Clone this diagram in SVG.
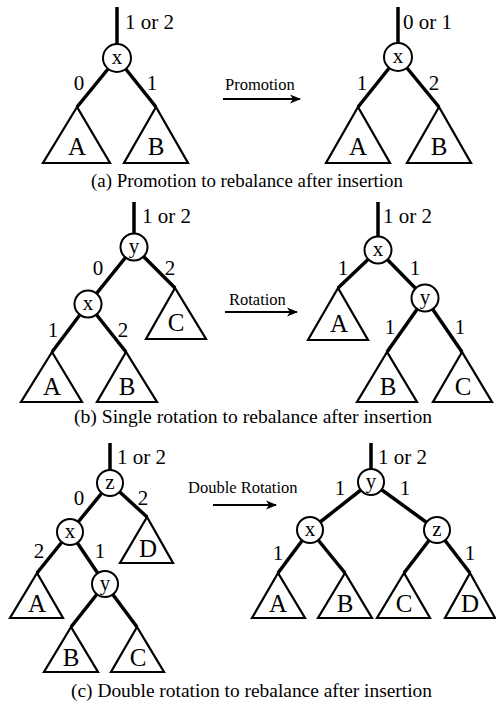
<svg xmlns="http://www.w3.org/2000/svg" width="496" height="706" viewBox="0 0 496 706">
<style>
.e{stroke:#000;stroke-width:3.5;fill:none;stroke-linecap:butt}
.t{stroke:#000;stroke-width:2.2;fill:#fff;stroke-linejoin:miter}
.c{stroke:#000;stroke-width:2;fill:#fff}
.lbl{font-family:"Liberation Serif","Times New Roman",serif;font-size:21px;fill:#000}
.nl{font-family:"Liberation Serif","Times New Roman",serif;font-size:21px;fill:#000;text-anchor:middle}
.tl{font-family:"Liberation Serif","Times New Roman",serif;font-size:25px;fill:#000;text-anchor:middle}
.el{font-family:"Liberation Serif","Times New Roman",serif;font-size:21px;fill:#000;text-anchor:middle}
.al{font-family:"Liberation Serif","Times New Roman",serif;font-size:16.5px;fill:#000}
.cap{font-family:"Liberation Serif","Times New Roman",serif;font-size:18.5px;fill:#000}
.arr{stroke:#000;stroke-width:2;fill:none}
</style>
<defs>
<marker id="ah" markerWidth="12" markerHeight="10" refX="10" refY="5" orient="auto" markerUnits="userSpaceOnUse">
<path d="M0,0.5 L11,5 L0,9.5 L3,5 z" fill="#000"/>
</marker>
</defs>
<g id="connectors">
<line class="e" x1="117" y1="7" x2="117" y2="44"/>
<line class="e" x1="117" y1="58" x2="77" y2="107"/>
<line class="e" x1="117" y1="58" x2="156" y2="107"/>
<line class="e" x1="398" y1="7" x2="398" y2="44"/>
<line class="e" x1="398" y1="57" x2="358" y2="107"/>
<line class="e" x1="398" y1="57" x2="439" y2="107"/>
<line class="e" x1="134" y1="202" x2="134" y2="234"/>
<line class="e" x1="134" y1="247" x2="88" y2="304"/>
<line class="e" x1="134" y1="247" x2="175" y2="288"/>
<line class="e" x1="88" y1="304" x2="52" y2="352"/>
<line class="e" x1="88" y1="304" x2="126" y2="352"/>
<line class="e" x1="378" y1="202" x2="378" y2="237"/>
<line class="e" x1="378" y1="250" x2="338" y2="288"/>
<line class="e" x1="378" y1="250" x2="425" y2="298"/>
<line class="e" x1="425" y1="298" x2="387" y2="352"/>
<line class="e" x1="425" y1="298" x2="462" y2="352"/>
<line class="e" x1="110" y1="443" x2="110" y2="470"/>
<line class="e" x1="110" y1="483" x2="70" y2="532"/>
<line class="e" x1="110" y1="483" x2="147" y2="517"/>
<line class="e" x1="70" y1="532" x2="37" y2="573"/>
<line class="e" x1="70" y1="532" x2="105" y2="584"/>
<line class="e" x1="105" y1="584" x2="71" y2="627"/>
<line class="e" x1="105" y1="584" x2="137" y2="627"/>
<line class="e" x1="371" y1="443" x2="371" y2="469"/>
<line class="e" x1="371" y1="482" x2="310" y2="530"/>
<line class="e" x1="371" y1="482" x2="437" y2="530"/>
<line class="e" x1="310" y1="530" x2="278" y2="573"/>
<line class="e" x1="310" y1="530" x2="345" y2="573"/>
<line class="e" x1="437" y1="530" x2="404" y2="573"/>
<line class="e" x1="437" y1="530" x2="470" y2="573"/>
<line class="arr" x1="223" y1="99" x2="300" y2="99" marker-end="url(#ah)"/>
<line class="arr" x1="225" y1="312" x2="297" y2="312" marker-end="url(#ah)"/>
<line class="arr" x1="213" y1="505" x2="276" y2="505" marker-end="url(#ah)"/>
</g>
<g id="edge-labels">
<text class="lbl" x="125" y="29">1 or 2</text>
<text class="el" x="79" y="90">0</text>
<text class="el" x="152" y="90">1</text>
<text class="lbl" x="403" y="29">0 or 1</text>
<text class="el" x="362" y="90">1</text>
<text class="el" x="434" y="90">2</text>
<text class="lbl" x="142" y="223">1 or 2</text>
<text class="el" x="98" y="275">0</text>
<text class="el" x="170" y="275">2</text>
<text class="el" x="53" y="337">1</text>
<text class="el" x="123" y="337">2</text>
<text class="lbl" x="383" y="223">1 or 2</text>
<text class="el" x="343" y="275">1</text>
<text class="el" x="415" y="275">1</text>
<text class="el" x="390" y="334">1</text>
<text class="el" x="460" y="334">1</text>
<text class="lbl" x="117" y="464">1 or 2</text>
<text class="el" x="79" y="505">0</text>
<text class="el" x="143" y="505">2</text>
<text class="el" x="39" y="558">2</text>
<text class="el" x="100" y="558">1</text>
<text class="lbl" x="378" y="464">1 or 2</text>
<text class="el" x="340" y="495">1</text>
<text class="el" x="405" y="495">1</text>
<text class="el" x="278" y="560">1</text>
<text class="el" x="470" y="560">1</text>
<text class="al" x="225" y="90">Promotion</text>
<text class="al" x="229" y="305">Rotation</text>
<text class="al" x="188" y="493">Double Rotation</text>
</g>
<g id="a1-x"><circle class="c" cx="117" cy="58" r="14"/><text class="nl" x="117" y="64">x</text></g>
<g id="a1-A"><polygon class="t" points="77,107 43,163 110,163"/><text class="tl" x="77" y="155">A</text></g>
<g id="a1-B"><polygon class="t" points="156,107 124,163 188,163"/><text class="tl" x="156" y="155">B</text></g>
<g id="a2-x"><circle class="c" cx="398" cy="57" r="14"/><text class="nl" x="398" y="63">x</text></g>
<g id="a2-A"><polygon class="t" points="358,107 326,163 390,163"/><text class="tl" x="358" y="155">A</text></g>
<g id="a2-B"><polygon class="t" points="439,107 407,163 471,163"/><text class="tl" x="439" y="155">B</text></g>
<g id="b1-y"><circle class="c" cx="134" cy="247" r="13.5"/><text class="nl" x="134" y="253">y</text></g>
<g id="b1-x"><circle class="c" cx="88" cy="304" r="13.5"/><text class="nl" x="88" y="310">x</text></g>
<g id="b1-C"><polygon class="t" points="175,288 146,339 206,339"/><text class="tl" x="176" y="331">C</text></g>
<g id="b1-A"><polygon class="t" points="52,352 21,402 82,402"/><text class="tl" x="52" y="395">A</text></g>
<g id="b1-B"><polygon class="t" points="126,352 97,402 157,402"/><text class="tl" x="127" y="395">B</text></g>
<g id="b2-x"><circle class="c" cx="378" cy="250" r="13.5"/><text class="nl" x="378" y="256">x</text></g>
<g id="b2-y"><circle class="c" cx="425" cy="298" r="13.5"/><text class="nl" x="425" y="304">y</text></g>
<g id="b2-A"><polygon class="t" points="338,288 308,340 368,340"/><text class="tl" x="339" y="332">A</text></g>
<g id="b2-B"><polygon class="t" points="387,352 357,402 417,402"/><text class="tl" x="388" y="395">B</text></g>
<g id="b2-C"><polygon class="t" points="462,352 433,402 492,402"/><text class="tl" x="463" y="395">C</text></g>
<g id="c1-z"><circle class="c" cx="110" cy="483" r="13"/><text class="nl" x="110" y="489">z</text></g>
<g id="c1-x"><circle class="c" cx="70" cy="532" r="13"/><text class="nl" x="70" y="538">x</text></g>
<g id="c1-y"><circle class="c" cx="105" cy="584" r="13"/><text class="nl" x="105" y="590">y</text></g>
<g id="c1-D"><polygon class="t" points="147,517 120,563 173,563"/><text class="tl" x="148" y="557">D</text></g>
<g id="c1-A"><polygon class="t" points="37,573 10,618 63,618"/><text class="tl" x="37" y="612">A</text></g>
<g id="c1-B"><polygon class="t" points="71,627 44,672 98,672"/><text class="tl" x="71" y="666">B</text></g>
<g id="c1-C"><polygon class="t" points="137,627 111,672 164,672"/><text class="tl" x="138" y="666">C</text></g>
<g id="c2-y"><circle class="c" cx="371" cy="482" r="13"/><text class="nl" x="371" y="488">y</text></g>
<g id="c2-x"><circle class="c" cx="310" cy="530" r="13"/><text class="nl" x="310" y="536">x</text></g>
<g id="c2-z"><circle class="c" cx="437" cy="530" r="13"/><text class="nl" x="437" y="536">z</text></g>
<g id="c2-A"><polygon class="t" points="278,573 252,618 305,618"/><text class="tl" x="278" y="612">A</text></g>
<g id="c2-B"><polygon class="t" points="345,573 318,618 372,618"/><text class="tl" x="345" y="612">B</text></g>
<g id="c2-C"><polygon class="t" points="404,573 377,618 430,618"/><text class="tl" x="404" y="612">C</text></g>
<g id="c2-D"><polygon class="t" points="470,573 445,618 495,618"/><text class="tl" x="470" y="612">D</text></g>
<g id="captions">
<text class="cap" x="91" y="187" textLength="312" lengthAdjust="spacingAndGlyphs">(a) Promotion to rebalance after insertion</text>
<text class="cap" x="74" y="423" textLength="358" lengthAdjust="spacingAndGlyphs">(b) Single rotation to rebalance after insertion</text>
<text class="cap" x="71" y="697" textLength="361" lengthAdjust="spacingAndGlyphs">(c) Double rotation to rebalance after insertion</text>
</g>
</svg>
